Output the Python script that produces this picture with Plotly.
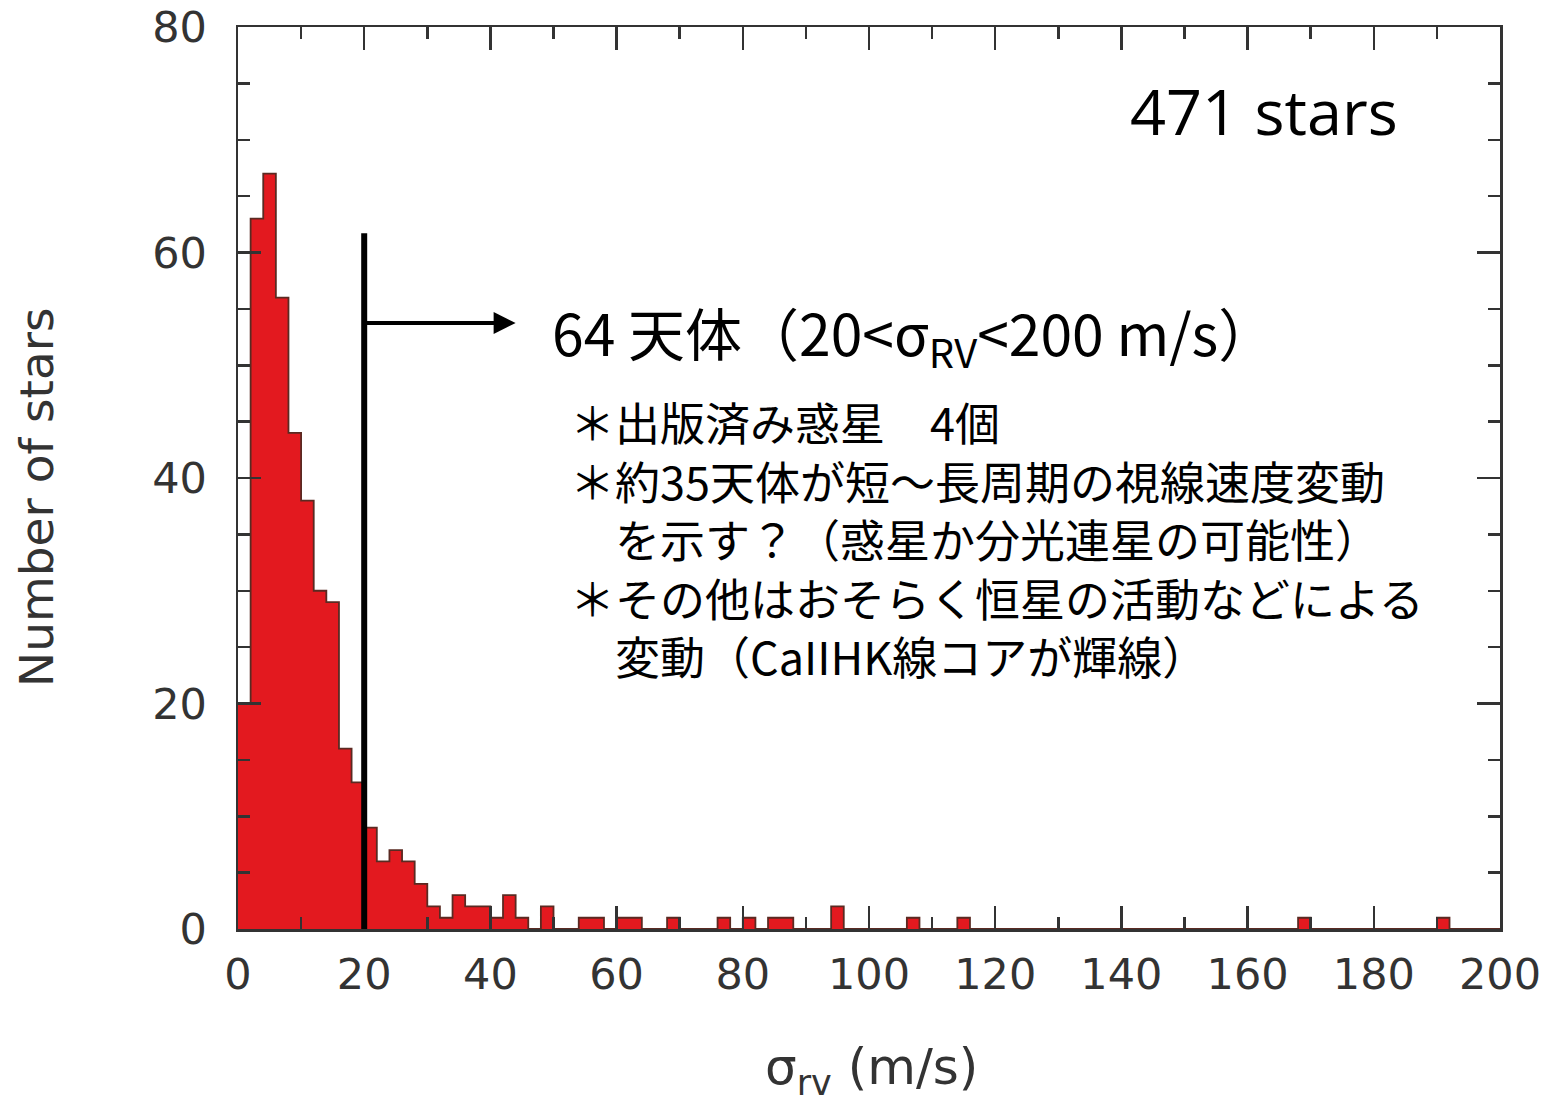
import plotly.graph_objects as go

# ---- data ----
bin_width = 2
bin_left = list(range(0, 200, 2))
counts = [0] * 100
known = {
    0: 20, 2: 63, 4: 67, 6: 56, 8: 44, 10: 38, 12: 30, 14: 29, 16: 16, 18: 13,
    20: 9, 22: 6, 24: 7, 26: 6, 28: 4, 30: 2, 32: 1, 34: 3, 36: 2, 38: 2,
    40: 1, 42: 3, 44: 1, 46: 0, 48: 2, 54: 1, 56: 1, 60: 1, 62: 1, 68: 1,
    76: 1, 80: 1, 84: 1, 86: 1, 94: 2, 106: 1, 114: 1, 168: 1, 190: 1,
}
for k, v in known.items():
    counts[k // 2] = v
bin_edges = bin_left + [bin_left[-1] + bin_width]
step_counts = counts + [counts[-1]]

threshold = 20
threshold_top = 61.7
arrow_y = 53.75
arrow_end = 44

x_ticks = list(range(0, 201, 20))
y_ticks = list(range(0, 81, 20))

total_label = "471 stars"
range_label = "64 天体（20&lt;σ<sub>RV</sub>&lt;200 m/s）"
notes = [
    "＊出版済み惑星　4個",
    "＊約35天体が短～長周期の視線速度変動",
    "　を示す？（惑星か分光連星の可能性）",
    "＊その他はおそらく恒星の活動などによる",
    "　変動（CaIIHK線コアが輝線）",
]
x_title = "σ<sub>rv</sub> (m/s)"
y_title = "Number of stars"

# ---- layout geometry (body margin removed by post_script) ----
W, H = 1558, 1104
L, R, T, B = 238, 58, 27, 175
PW, PH = W - L - R, H - T - B


def px(xp):
    return (xp - L) / PW


def py(yp):
    return (H - B - yp) / PH


fig = go.Figure()
fig.add_trace(go.Scatter(
    x=bin_edges, y=step_counts, mode="lines", line_shape="hv",
    fill="tozeroy", fillcolor="#e3191f",
    line=dict(color="#5a2a22", width=1.8),
    showlegend=False, hoverinfo="skip",
))

fig.add_shape(type="line", x0=threshold, x1=threshold, y0=0, y1=threshold_top,
              xref="x", yref="y", line=dict(color="black", width=6))

fig.add_annotation(x=arrow_end, y=arrow_y, ax=threshold, ay=arrow_y,
                   xref="x", yref="y", axref="x", ayref="y", text="",
                   showarrow=True, arrowhead=2, arrowsize=1.1, arrowwidth=4,
                   arrowcolor="black", standoff=0, startstandoff=0)

cjk = "Noto Sans CJK JP"
fig.add_annotation(x=px(1128), y=py(110), xref="paper", yref="paper",
                   text=total_label, showarrow=False, xanchor="left", yanchor="middle",
                   font=dict(family="Open Sans", size=63, color="black"))
fig.add_annotation(x=px(550), y=py(288), xref="paper", yref="paper",
                   text=range_label, showarrow=False, xanchor="left", yanchor="top",
                   font=dict(family=cjk, size=57, color="black"))
fig.add_annotation(x=px(568), y=py(538), xref="paper", yref="paper",
                   text="<br>".join(notes), showarrow=False, xanchor="left",
                   yanchor="middle", align="left",
                   font=dict(family=cjk, size=45, color="black"))

# axis titles placed as annotations to match the reference position
fig.add_annotation(x=px(871), y=py(1070), xref="paper", yref="paper",
                   text=x_title, showarrow=False, xanchor="center", yanchor="middle",
                   font=dict(family="DejaVu Sans", size=50, color="#333333"))
fig.add_annotation(x=px(37), y=py(497), xref="paper", yref="paper",
                   text=y_title, showarrow=False, textangle=-90,
                   xanchor="center", yanchor="middle",
                   font=dict(family="DejaVu Sans", size=47, color="#333333"))

axis_common = dict(
    showline=True, linecolor="#333333", linewidth=2.5, mirror="ticks",
    ticks="inside", ticklen=23, tickwidth=2.5, tickcolor="#333333",
    showgrid=False, zeroline=False, ticklabeloverflow="allow",
    tickfont=dict(family="DejaVu Sans", size=43, color="#333333"),
)
fig.update_xaxes(
    range=[0, 200], tickvals=x_ticks, ticktext=[str(v) for v in x_ticks],
    minor=dict(dtick=10, tick0=0, ticks="inside", ticklen=12, tickwidth=2.5,
               tickcolor="#333333", showgrid=False),
    ticklabelstandoff=6,
    **axis_common,
)
fig.update_yaxes(
    range=[0, 80], tickvals=y_ticks, ticktext=[str(v) for v in y_ticks],
    minor=dict(dtick=5, tick0=0, ticks="inside", ticklen=12, tickwidth=2.5,
               tickcolor="#333333", showgrid=False),
    ticklabelstandoff=20,
    **axis_common,
)
fig.update_layout(
    width=W, height=H, margin=dict(l=L, r=R, t=T, b=B, autoexpand=False),
    plot_bgcolor="white", paper_bgcolor="white", hovermode=False,
)
fig.write_html(
    "out.html",
    config={"displayModeBar": False, "staticPlot": True},
    post_script="document.body.style.margin='0';document.body.style.overflow='hidden';",
)
